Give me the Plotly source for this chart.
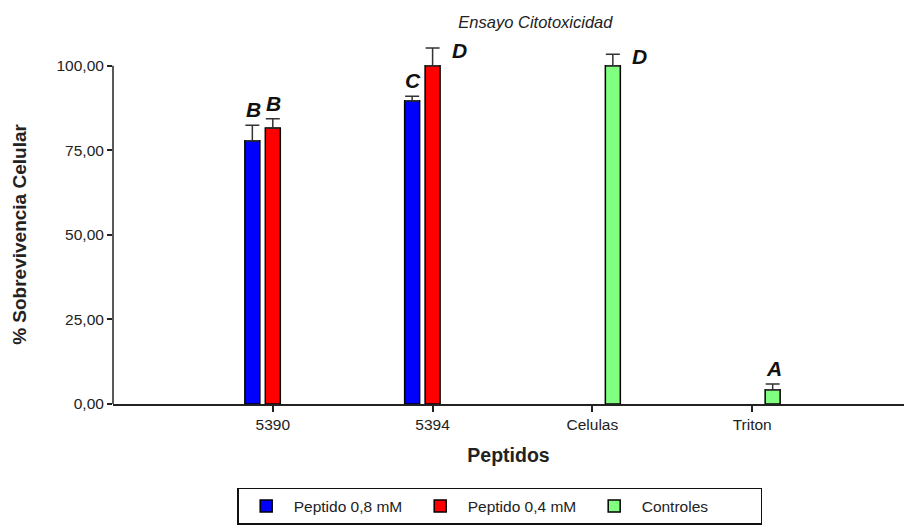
import plotly.graph_objects as go

categories = ["5390", "5394", "Celulas", "Triton"]

series_names = ["Peptido 0,8 mM", "Peptido 0,4 mM", "Controles"]
series_x = [["5390", "5394"], ["5390", "5394"], ["Celulas", "Triton"]]
series_values = [[77.8, 89.6], [81.6, 100.0], [100.0, 4.2]]
series_errors = [[4.6, 1.4], [2.7, 5.2], [3.4, 1.7]]
series_letters = [["B", "C"], ["B", "D"], ["D", "A"]]
series_colors = ["#0000FF", "#FF0000", "#80FF80"]
letter_side = [["top", "top"], ["top", "right"], ["right", "top"]]

y_ticks = [0, 25, 50, 75, 100]

FONT = "Liberation Sans, Arial, sans-serif"

fig = go.Figure()
for name, xs, vals, errs, col in zip(series_names, series_x, series_values, series_errors, series_colors):
    fig.add_trace(go.Bar(
        name=name, x=xs, y=vals,
        marker=dict(color=col, line=dict(color="#000000", width=1.5)),
        error_y=dict(type="data", array=errs, arrayminus=[0] * len(errs), symmetric=False,
                     color="#333333", thickness=1.5, width=7),
    ))

slot_px = 20.5
annotations = []
for si, (xs, vals, errs, lets, sides) in enumerate(zip(series_x, series_values, series_errors, series_letters, letter_side)):
    off = (si - 1) * slot_px
    for x, v, e, l, s in zip(xs, vals, errs, lets, sides):
        idx = categories.index(x)
        if s == "top":
            annotations.append(dict(x=idx, y=v + e, xref="x", yref="y", text="<b><i>%s</i></b>" % l,
                                    showarrow=False, xshift=off + 1, yshift=2, yanchor="bottom",
                                    font=dict(size=21, family=FONT, color="#111111")))
        else:
            annotations.append(dict(x=idx, y=v + e, xref="x", yref="y", text="<b><i>%s</i></b>" % l,
                                    showarrow=False, xshift=off + 17, yshift=-2, xanchor="left", yanchor="middle",
                                    font=dict(size=21, family=FONT, color="#111111")))

annotations.append(dict(x=-113 / 791 + 20 / 791, y=50, xref="paper", yref="y",
                        text="<b>% Sobrevivencia Celular</b>", textangle=-90, showarrow=False,
                        font=dict(size=19, family=FONT, color="#222222"),
                        xanchor="center", yanchor="middle"))

fig.update_layout(
    width=904, height=525,
    margin=dict(l=113, r=0, t=42, b=121),
    paper_bgcolor="white", plot_bgcolor="white",
    separators=",.",
    barmode="group", bargap=0.616, bargroupgap=0.267,
    font=dict(family=FONT, size=15, color="#222222"),
    title=dict(text="<i>Ensayo Citotoxicidad</i>", x=0.534, xref="paper", xanchor="center",
               y=1 - 22 / 525, yanchor="middle", font=dict(size=16.5, family=FONT, color="#222222")),
    xaxis=dict(type="category", categoryorder="array", categoryarray=categories,
               range=[-1.0, 3.95], showline=True, linecolor="#222222", linewidth=1.5,
               ticks="outside", ticklen=6, tickcolor="#222222", tickwidth=1.5,
               tickfont=dict(size=15.5, family=FONT), showgrid=False, zeroline=False,
               title=dict(text="<b>Peptidos</b>", font=dict(size=19.5, family=FONT), standoff=16)),
    yaxis=dict(range=[0, 107], tickvals=y_ticks, tickformat=".2f", showline=False,
               ticks="outside", ticklen=5, tickcolor="#222222", tickwidth=1.5,
               tickfont=dict(size=15.5, family=FONT), showgrid=False, zeroline=False),
    legend=dict(orientation="h", x=0.157, xanchor="left", y=-0.232, yanchor="top",
                bordercolor="#111111", borderwidth=1.5, font=dict(size=15.5, family=FONT),
                itemwidth=45, entrywidth=114, entrywidthmode="pixels", traceorder="normal"),
    annotations=annotations,
    shapes=[dict(type="line", xref="paper", yref="y", x0=0, x1=0, y0=0, y1=100,
                 line=dict(color="#222222", width=1.5))],
)

fig.write_html("out.html")
